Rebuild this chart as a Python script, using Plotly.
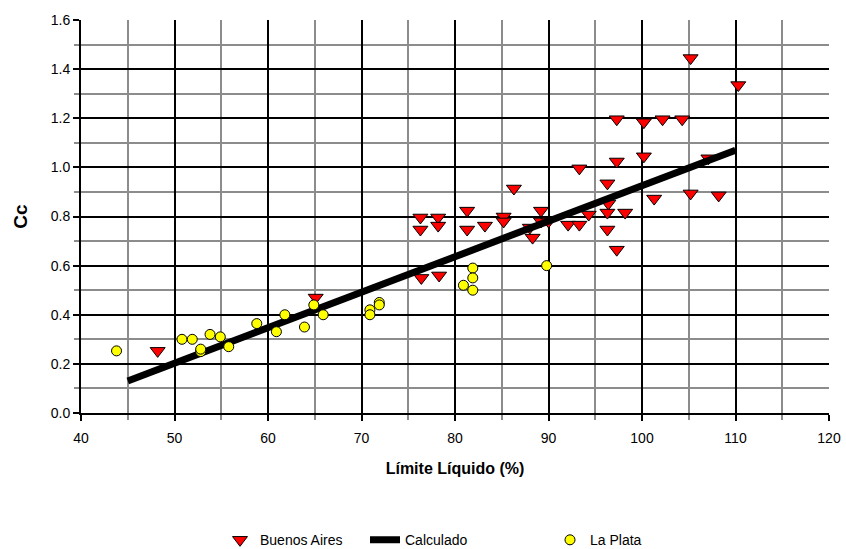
import plotly.graph_objects as go

# Buenos Aires data (Limite Liquido %, Cc)
ba_ll = [48.2, 65.1, 76.3, 76.3, 78.2, 78.2, 76.4, 78.3, 81.3, 81.3, 83.2, 85.2, 85.2, 86.3,
         88.3, 88.0, 89.2, 89.2, 90.0, 92.1, 93.3, 93.3, 94.3, 96.3, 96.4, 96.3, 98.2, 96.3,
         97.3, 97.3, 97.3, 100.2, 100.2, 102.2, 104.3, 105.2, 101.3, 105.2, 107.1, 108.2, 110.3]
ba_cc = [0.253, 0.47, 0.796, 0.747, 0.796, 0.763, 0.55, 0.56, 0.824, 0.747, 0.763, 0.80, 0.78, 0.914,
         0.714, 0.755, 0.824, 0.78, 0.78, 0.767, 0.767, 0.996, 0.808, 0.935, 0.853, 0.816, 0.816, 0.747,
         0.665, 1.024, 1.196, 1.184, 1.045, 1.196, 1.196, 1.445, 0.873, 0.894, 1.037, 0.886, 1.335]

# La Plata data
lp_ll = [43.8, 50.8, 51.9, 53.8, 54.9, 52.8, 52.8, 55.8, 58.8, 60.9, 61.8, 63.9, 64.9, 65.9,
         70.9, 70.9, 71.9, 71.9, 80.9, 81.9, 81.9, 81.9, 89.8]
lp_cc = [0.253, 0.30, 0.30, 0.32, 0.31, 0.25, 0.26, 0.27, 0.364, 0.331, 0.40, 0.35, 0.44, 0.40,
         0.42, 0.40, 0.45, 0.44, 0.52, 0.59, 0.55, 0.50, 0.60]

# Calculated line
calc_ll = [45, 110]
calc_cc = [0.13, 1.07]

x_ticks = [40, 50, 60, 70, 80, 90, 100, 110, 120]
y_ticks = [0.0, 0.2, 0.4, 0.6, 0.8, 1.0, 1.2, 1.4, 1.6]

FONT = "Liberation Sans, Arial, sans-serif"

fig = go.Figure()
fig.add_trace(go.Scatter(
    x=ba_ll, y=ba_cc, mode="markers", name="Buenos Aires", legend="legend",
    marker=dict(symbol="triangle-down", size=13, color="#ff0000",
                line=dict(color="black", width=1)),
))
fig.add_trace(go.Scatter(
    x=calc_ll, y=calc_cc, mode="lines", name="Calculado", legend="legend2",
    line=dict(color="black", width=7),
))
fig.add_trace(go.Scatter(
    x=lp_ll, y=lp_cc, mode="markers", name="La Plata", legend="legend3",
    marker=dict(symbol="circle", size=10, color="#ffff00",
                line=dict(color="black", width=1)),
))

def leg(xpx):
    return dict(orientation="h", xref="container", x=xpx / 846, xanchor="left",
                yref="container", y=0.016, yanchor="middle",
                font=dict(family=FONT, size=14), bgcolor="rgba(0,0,0,0)")

fig.update_layout(
    width=846, height=549,
    margin=dict(l=81, r=17, t=20, b=136, autoexpand=False),
    paper_bgcolor="white", plot_bgcolor="white",
    font=dict(family=FONT, size=14, color="black"),
    showlegend=True,
    legend=leg(220),
    legend2=leg(365),
    legend3=leg(550),
    xaxis=dict(
        range=[40, 120], tickvals=x_ticks, ticktext=[str(v) for v in x_ticks],
        showgrid=True, gridcolor="black", gridwidth=2,
        showline=True, linecolor="black", linewidth=2, mirror=False,
        ticks="outside", ticklen=6, tickcolor="black", tickwidth=2,
        tickfont=dict(family=FONT, size=14), ticklabelstandoff=5,
        minor=dict(dtick=5, showgrid=True, gridcolor="#8c8c8c", gridwidth=2,
                   ticks="outside", ticklen=5, tickcolor="#8c8c8c", tickwidth=2),
        title=dict(text="<b>Límite Líquido (%)</b>", font=dict(family=FONT, size=16), standoff=18),
        zeroline=False,
    ),
    yaxis=dict(
        range=[0, 1.6], tickvals=y_ticks, ticktext=[f"{v:.1f}" for v in y_ticks],
        showgrid=True, gridcolor="black", gridwidth=2,
        showline=True, linecolor="black", linewidth=2,
        ticks="outside", ticklen=6, tickcolor="black", tickwidth=2,
        tickfont=dict(family=FONT, size=14),
        minor=dict(dtick=0.1, showgrid=True, gridcolor="#8c8c8c", gridwidth=2,
                   ticks="outside", ticklen=5, tickcolor="#8c8c8c", tickwidth=2),
        title=dict(text="<b>Cc</b>", font=dict(family=FONT, size=19), standoff=18),
        zeroline=False,
    ),
)

fig.write_html("out.html")
